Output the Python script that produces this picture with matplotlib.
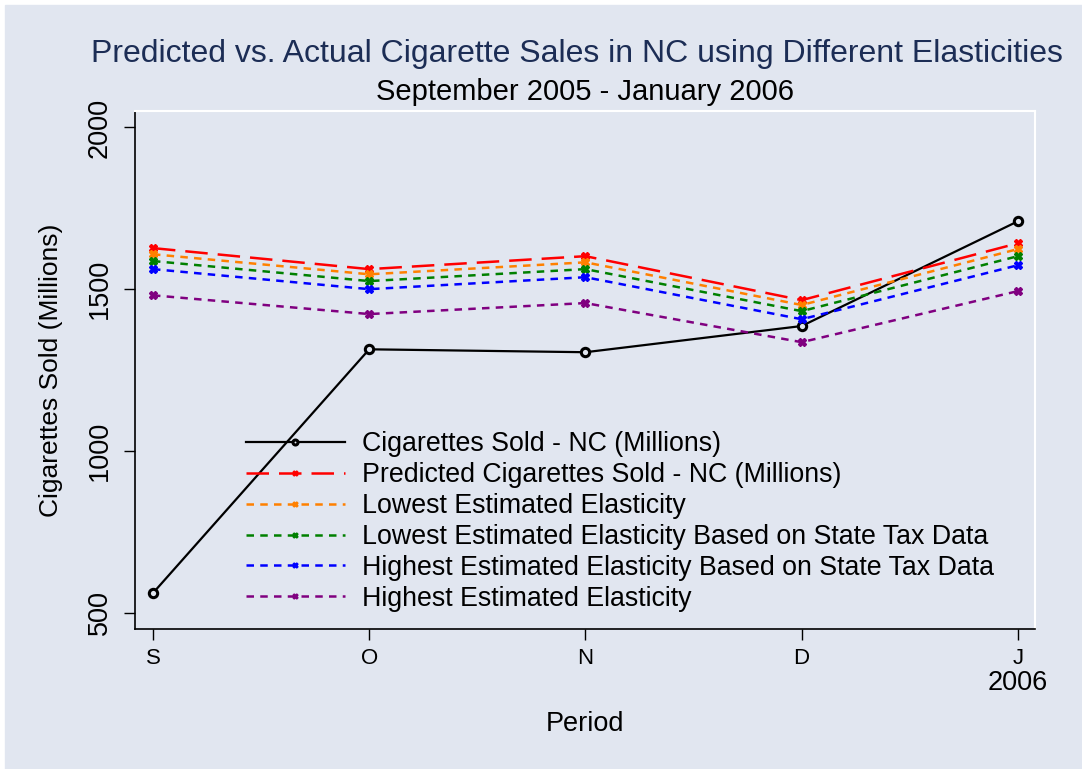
import matplotlib.pyplot as plt

plt.rcParams["font.family"] = ["Liberation Sans", "DejaVu Sans"]

months = ["S", "O", "N", "D", "J"]
actual = [560, 1314, 1305, 1386, 1710]
predicted = [1627, 1562, 1602, 1466, 1642]
lowest = [1608, 1546, 1583, 1451, 1624]
lowest_state = [1587, 1525, 1562, 1432, 1602]
highest_state = [1562, 1500, 1537, 1407, 1574]
highest = [1481, 1423, 1457, 1336, 1494]

labels = [
    "Cigarettes Sold - NC (Millions)",
    "Predicted Cigarettes Sold - NC (Millions)",
    "Lowest Estimated Elasticity",
    "Lowest Estimated Elasticity Based on State Tax Data",
    "Highest Estimated Elasticity Based on State Tax Data",
    "Highest Estimated Elasticity",
]

bg = "#e1e6f0"
x = list(range(len(months)))

fig = plt.figure(figsize=(10.82, 7.69), dpi=100, facecolor="white")
fig.patches.append(plt.Rectangle((5 / 1082, 0), 1 - 5 / 1082, 1 - 5 / 769,
                                 transform=fig.transFigure, color=bg, zorder=-1))
ax = fig.add_axes([135 / 1082, 1 - 629 / 769, 900 / 1082, 518 / 769])
ax.set_facecolor(bg)

ax.plot(x, actual, color="black", lw=1.6, marker="o", ms=6, mfc=bg, mec="black",
        mew=2.2, label=labels[0])
ax.plot(x, predicted, color="red", lw=1.8, dashes=(9, 4), marker="X", ms=6,
        label=labels[1])
ax.plot(x, lowest, color="#ff8000", lw=1.8, dashes=(3, 2.5), marker="X", ms=6,
        label=labels[2])
ax.plot(x, lowest_state, color="#008000", lw=1.8, dashes=(3, 2.5), marker="X", ms=6,
        label=labels[3])
ax.plot(x, highest_state, color="#0000ff", lw=1.8, dashes=(3, 2.5), marker="X", ms=6,
        label=labels[4])
ax.plot(x, highest, color="#800080", lw=1.8, dashes=(3, 2.5), marker="X", ms=6,
        label=labels[5])

ax.set_xlim(-0.083, 4.079)
ax.set_ylim(449, 2051)
ax.set_xticks(x)
ax.set_xticklabels(months, fontsize=16)
ax.set_yticks([500, 1000, 1500, 2000])
ax.set_yticklabels(["500", "1000", "1500", "2000"], fontsize=19.5, rotation=90, va="center")
ax.tick_params(axis="both", direction="out", length=8, width=1)
ax.tick_params(axis="x", pad=6)
ax.tick_params(axis="y", pad=8)

for side in ["top", "right"]:
    ax.spines[side].set_color("white")
    ax.spines[side].set_linewidth(1.5)
for side in ["left", "bottom"]:
    ax.spines[side].set_color("black")
    ax.spines[side].set_linewidth(1.2)

ax.text(4, -0.08, "2006", transform=ax.get_xaxis_transform(), ha="center",
        va="top", fontsize=19.5)
ax.set_xlabel("Period", fontsize=19.5, labelpad=30)
ax.set_ylabel("Cigarettes Sold (Millions)", fontsize=19, labelpad=17)

leg = ax.legend(loc="lower left", bbox_to_anchor=(0.097, -0.013), frameon=False,
                fontsize=19.3, handlelength=3.66, handletextpad=0.67, labelspacing=0.18,
                markerscale=0.6)

fig.text(577 / 1082, 1 - 54 / 769,
         "Predicted vs. Actual Cigarette Sales in NC using Different Elasticities",
         ha="center", va="center", fontsize=23, color="#1c2d55")
fig.text(585 / 1082, 1 - 92 / 769, "September 2005 - January 2006",
         ha="center", va="center", fontsize=21, color="black")

fig.savefig("out.png", dpi=100, facecolor="white")
